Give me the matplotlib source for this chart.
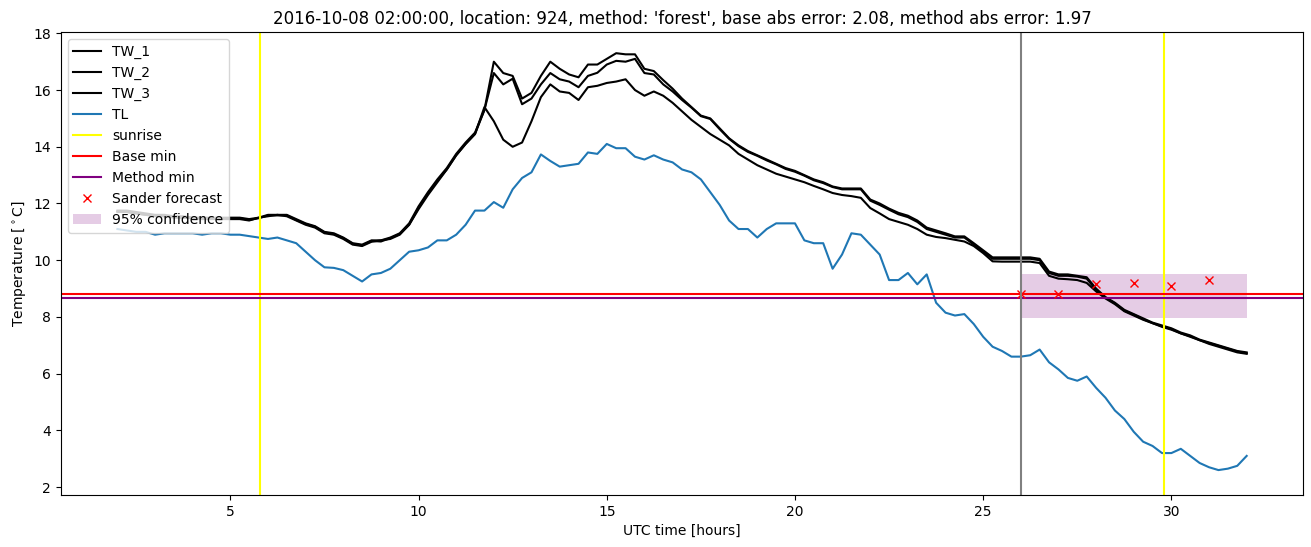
import matplotlib
matplotlib.use('Agg')
import matplotlib.pyplot as plt
import numpy as np

# 15 minute samples from 02:00 to 32:00 UTC
hours = np.arange(2.0, 32.01, 0.25)

TW_1 = [11.75, 11.75, 11.7, 11.65, 11.6, 11.6, 11.55, 11.55,
        11.5, 11.5, 11.5, 11.5, 11.5, 11.5, 11.45, 11.5,
        11.6, 11.6, 11.6, 11.45, 11.3, 11.2, 11.0, 10.95,
        10.8, 10.6, 10.55, 10.7, 10.7, 10.8, 10.95, 11.3,
        11.9, 12.4, 12.85, 13.25, 13.75, 14.15, 14.5, 15.3,
        17.0, 16.6, 16.5, 15.7, 15.9, 16.5, 17.0, 16.75,
        16.55, 16.45, 16.9, 16.9, 17.1, 17.3, 17.26, 17.26,
        16.75, 16.67, 16.35, 16.05, 15.7, 15.4, 15.1, 15.0,
        14.65, 14.3, 14.05, 13.85, 13.7, 13.55, 13.4, 13.25,
        13.15, 13.0, 12.85, 12.75, 12.6, 12.53, 12.53, 12.53,
        12.14, 12.0, 11.82, 11.67, 11.57, 11.4, 11.15, 11.05,
        10.95, 10.84, 10.84, 10.6, 10.35, 10.1, 10.1, 10.1,
        10.1, 10.1, 10.05, 9.6, 9.5, 9.5, 9.45, 9.4,
        9.0, 8.7, 8.5, 8.25, 8.1, 7.95, 7.8, 7.7,
        7.6, 7.45, 7.35, 7.2, 7.1, 7.0, 6.9, 6.8,
        6.75]

TW_2 = [11.7, 11.7, 11.65, 11.6, 11.55, 11.55, 11.5, 11.5,
        11.5, 11.45, 11.45, 11.45, 11.45, 11.45, 11.4, 11.5,
        11.55, 11.6, 11.55, 11.4, 11.25, 11.15, 10.95, 10.9,
        10.75, 10.55, 10.5, 10.65, 10.7, 10.75, 10.9, 11.25,
        11.85, 12.35, 12.8, 13.2, 13.7, 14.1, 14.45, 15.3,
        16.6, 16.2, 16.4, 15.5, 15.7, 16.2, 16.6, 16.38,
        16.3, 16.1, 16.5, 16.61, 16.9, 17.03, 17.0, 17.1,
        16.6, 16.55, 16.2, 15.95, 15.65, 15.38, 15.08, 14.98,
        14.62, 14.28, 14.02, 13.82, 13.68, 13.52, 13.38, 13.22,
        13.12, 12.98, 12.82, 12.72, 12.58, 12.5, 12.5, 12.5,
        12.1, 11.95, 11.78, 11.62, 11.52, 11.35, 11.1, 11.0,
        10.9, 10.8, 10.8, 10.55, 10.3, 10.05, 10.05, 10.05,
        10.05, 10.05, 10.0, 9.55, 9.45, 9.45, 9.42, 9.35,
        8.95, 8.68, 8.48, 8.22, 8.08, 7.92, 7.78, 7.67,
        7.57, 7.42, 7.32, 7.18, 7.08, 6.98, 6.88, 6.78,
        6.72]

TW_3 = [11.72, 11.7, 11.65, 11.6, 11.58, 11.55, 11.52, 11.5,
        11.48, 11.48, 11.48, 11.48, 11.48, 11.48, 11.42, 11.48,
        11.58, 11.58, 11.58, 11.42, 11.28, 11.18, 10.98, 10.92,
        10.78, 10.58, 10.52, 10.68, 10.66, 10.78, 10.92, 11.25,
        11.8, 12.3, 12.75, 13.2, 13.7, 14.1, 14.45, 15.4,
        14.9, 14.25, 14.0, 14.15, 14.9, 15.75, 16.2, 15.95,
        15.9, 15.65, 16.1, 16.15, 16.25, 16.3, 16.38, 16.0,
        15.8, 15.95, 15.8, 15.55, 15.25, 14.95, 14.7, 14.45,
        14.25, 14.05, 13.75, 13.55, 13.35, 13.2, 13.05, 12.95,
        12.85, 12.75, 12.62, 12.5, 12.37, 12.3, 12.26, 12.2,
        11.84, 11.65, 11.45, 11.35, 11.25, 11.1, 10.9, 10.82,
        10.78, 10.72, 10.66, 10.5, 10.25, 9.96, 9.95, 9.95,
        9.95, 9.95, 9.9, 9.45, 9.35, 9.33, 9.3, 9.2,
        8.9, 8.65, 8.45, 8.2, 8.05, 7.9, 7.78, 7.65,
        7.55, 7.42, 7.3, 7.18, 7.05, 6.95, 6.85, 6.75,
        6.7]

TL = [11.1, 11.05, 11.0, 11.0, 10.9, 10.95, 10.95, 10.95,
      10.95, 10.9, 10.95, 10.95, 10.9, 10.9, 10.85, 10.8,
      10.75, 10.8, 10.7, 10.6, 10.3, 10.0, 9.75, 9.73,
      9.65, 9.45, 9.25, 9.5, 9.55, 9.7, 10.0, 10.3,
      10.35, 10.45, 10.7, 10.7, 10.9, 11.25, 11.75, 11.75,
      12.05, 11.85, 12.5, 12.9, 13.1, 13.73, 13.5, 13.3,
      13.35, 13.4, 13.8, 13.75, 14.1, 13.95, 13.95, 13.65,
      13.55, 13.7, 13.55, 13.45, 13.2, 13.1, 12.85, 12.4,
      11.95, 11.4, 11.1, 11.1, 10.8, 11.1, 11.3, 11.3,
      11.3, 10.7, 10.6, 10.6, 9.7, 10.2, 10.95, 10.9,
      10.55, 10.2, 9.3, 9.3, 9.55, 9.15, 9.5, 8.5,
      8.15, 8.05, 8.1, 7.75, 7.3, 6.95, 6.8, 6.6,
      6.6, 6.65, 6.85, 6.4, 6.15, 5.85, 5.75, 5.9,
      5.5, 5.15, 4.7, 4.4, 3.95, 3.6, 3.45, 3.2,
      3.2, 3.35, 3.1, 2.85, 2.7, 2.6, 2.65, 2.75,
      3.1]

sunrise = [5.8, 29.8]
forecast_time = 26.0
base_min = 8.82
method_min = 8.68

sander_hours = [26, 27, 28, 29, 30, 31]
sander_temp = [8.8, 8.8, 9.17, 9.2, 9.1, 9.3]

conf_hours = [26, 32]
conf_low = 7.97
conf_high = 9.52


def main():
	fig, ax = plt.subplots(figsize=(13.11, 5.47), dpi=100)

	ax.plot(hours, TW_1, color='black', label='TW_1')
	ax.plot(hours, TW_2, color='black', label='TW_2')
	ax.plot(hours, TW_3, color='black', label='TW_3')
	ax.plot(hours, TL, color='tab:blue', label='TL')

	ax.axvline(sunrise[0], color='yellow', label='sunrise')
	ax.axvline(sunrise[1], color='yellow')
	ax.axhline(base_min, color='red', label='Base min')
	ax.axhline(method_min, color='purple', label='Method min')
	ax.plot(sander_hours, sander_temp, 'rx', label='Sander forecast')
	ax.axvline(forecast_time, color='gray')
	ax.fill_between(conf_hours, conf_low, conf_high, color='purple',
					alpha=0.2, linewidth=0, label='95% confidence')

	ax.set_xlim(0.5, 33.5)
	ax.set_ylim(1.72, 18.03)
	ax.set_title("2016-10-08 02:00:00, location: 924, method: 'forest', "
				 "base abs error: 2.08, method abs error: 1.97")
	ax.set_xlabel('UTC time [hours]')
	ax.set_ylabel(r'Temperature [$^\circ$C]')
	ax.legend(loc='upper left')

	fig.subplots_adjust(left=0.0465, right=0.994, top=0.9406, bottom=0.095)
	fig.savefig('out.png')


if __name__ == "__main__":
	main()
